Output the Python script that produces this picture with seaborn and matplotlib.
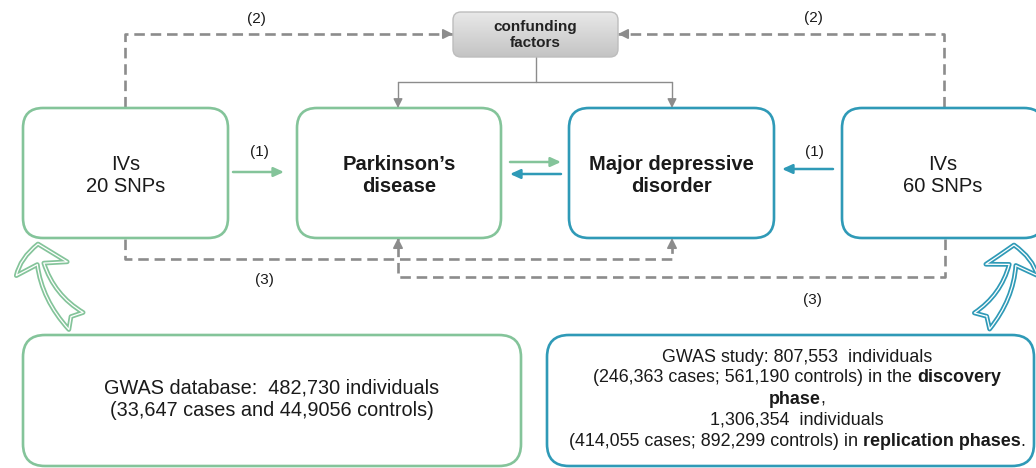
import matplotlib
matplotlib.use('Agg')
import matplotlib.pyplot as plt
import seaborn as sns
import numpy as np
from matplotlib.patches import FancyBboxPatch, FancyArrowPatch

# ---- diagram content ----
box_labels = ["IVs\n20 SNPs", "Parkinson\u2019s\ndisease", "Major depressive\ndisorder", "IVs\n60 SNPs"]
box_bold = [False, True, True, False]
confounder_label = "confunding\nfactors"
path_labels = ["(1)", "(2)", "(3)"]
pd_gwas_lines = ["GWAS database:  482,730 individuals", "(33,647 cases and 44,9056 controls)"]
mdd_gwas_lines = [
    [("GWAS study: 807,553  individuals", "normal")],
    [("(246,363 cases; 561,190 controls) in the", "normal"), ("discovery", "bold")],
    [("phase", "bold"), (",", "normal")],
    [("1,306,354  individuals", "normal")],
    [("(414,055 cases; 892,299 controls) in", "normal"), ("replication phases", "bold"), (".", "normal")],
]

GREEN = "#84c49a"
BLUE = "#2f9ab7"
GRAY = "#8c8c8c"
TXT = "#1a1a1a"

sns.set_theme(style="white")
plt.rcParams['font.family'] = ['Liberation Sans', 'DejaVu Sans']

fig = plt.figure(figsize=(10.36, 4.68), dpi=100)
ax = fig.add_axes([0, 0, 1, 1])
ax.set_xlim(0, 1036)
ax.set_ylim(468, 0)
ax.axis('off')


def rbox(x0, y0, x1, y1, color, r=20, lw=1.9, face='white'):
    p = FancyBboxPatch((x0, y0), x1 - x0, y1 - y0,
                       boxstyle=f"round,pad=0,rounding_size={r}",
                       fc=face, ec=color, lw=lw, zorder=2)
    ax.add_patch(p)
    return p


def dashed(points, arrow=True):
    pts = np.array(points, dtype=float)
    ax.plot(pts[:, 0], pts[:, 1], color=GRAY, lw=1.9, ls=(0, (4, 2.2)),
            solid_capstyle='butt', dash_capstyle='butt', zorder=1)
    if arrow:
        end = pts[-1]
        d = pts[-1] - pts[-2]
        d = d / np.hypot(*d)
        ax.annotate("", xy=end, xytext=end - d * 9,
                    arrowprops=dict(arrowstyle="-|>,head_length=0.5,head_width=0.25",
                                    color=GRAY, lw=1.2, mutation_scale=12,
                                    shrinkA=0, shrinkB=0), zorder=3)


def arrow(x0, y0, x1, y1, color, lw=1.8, ms=11):
    ax.annotate("", xy=(x1, y1), xytext=(x0, y0),
                arrowprops=dict(arrowstyle="-|>,head_length=0.55,head_width=0.25",
                                color=color, lw=lw, mutation_scale=ms,
                                shrinkA=0, shrinkB=0), zorder=3)


# main boxes
main_boxes = [(23, 108, 228, 238, GREEN), (297, 108, 501, 238, GREEN),
              (569, 108, 774, 238, BLUE), (842, 108, 1044, 238, BLUE)]
for (x0, y0, x1, y1, c), lab, b in zip(main_boxes, box_labels, box_bold):
    ax.text((x0 + x1) / 2, (y0 + y1) / 2 + 2, lab, ha='center', va='center',
            fontsize=14.5, fontweight='bold' if b else 'normal', color=TXT,
            linespacing=1.2, zorder=4)
    rbox(x0, y0, x1, y1, c)

# confounding factors box with gradient
cb = rbox(453, 12, 618, 57, "#bdbdbd", r=8, lw=1.0, face='none')
grad = np.linspace(0, 1, 100).reshape(-1, 1)
im = ax.imshow(grad, cmap=matplotlib.colors.LinearSegmentedColormap.from_list(
    "g", ["#e8e8e8", "#c4c4c4"]), extent=(453, 618, 57, 12), aspect='auto', zorder=1.5)
im.set_clip_path(cb)
ax.set_xlim(0, 1036)
ax.set_ylim(468, 0)
ax.text(535.5, 35, confounder_label, ha='center', va='center', fontsize=11,
        fontweight='bold', color="#222222", linespacing=1.15, zorder=4)

# confounder -> outcomes (thin solid)
ax.plot([535.5, 535.5], [57, 82], color=GRAY, lw=1.0, zorder=1)
ax.plot([398, 672], [82, 82], color=GRAY, lw=1.0, zorder=1)
for xx in (398, 672):
    ax.plot([xx, xx], [82, 100], color=GRAY, lw=1.0, zorder=1)
    ax.annotate("", xy=(xx, 108), xytext=(xx, 99),
                arrowprops=dict(arrowstyle="-|>,head_length=0.5,head_width=0.25",
                                color=GRAY, lw=1.0, mutation_scale=11,
                                shrinkA=0, shrinkB=0), zorder=3)

# (1) direct paths
arrow(233, 172, 284, 172, GREEN)
arrow(833, 169, 782, 169, BLUE)
ax.text(259, 152, path_labels[0], ha='center', va='center', fontsize=11, color=TXT)
ax.text(814, 152, path_labels[0], ha='center', va='center', fontsize=11, color=TXT)

# bidirectional arrows between PD and MDD
arrow(510, 162, 561, 162, GREEN)
arrow(561, 174, 510, 174, BLUE)

# (2) paths to confounders
dashed([(125, 107), (125, 34), (453, 34)])
dashed([(944, 107), (944, 34), (618, 34)])
ax.text(256, 19, path_labels[1], ha='center', va='center', fontsize=11, color=TXT)
ax.text(813, 18, path_labels[1], ha='center', va='center', fontsize=11, color=TXT)

# (3) paths
dashed([(125, 239), (125, 259), (672, 259), (672, 238)])
dashed([(945, 239), (945, 277), (398, 277), (398, 238)])
ax.text(264, 280, path_labels[2], ha='center', va='center', fontsize=11, color=TXT)
ax.text(812, 300, path_labels[2], ha='center', va='center', fontsize=11, color=TXT)

# hollow curved arrows
for tail, tip, c, rad in [((76, 321), (38, 244), GREEN, -0.22),
                          ((982, 321), (1014, 245), BLUE, 0.22)]:
    for lw, ec, fc in [(3.4, c, 'white'), (0.9, 'white', 'none')]:
        a = FancyArrowPatch(tail, tip,
                            arrowstyle="fancy,head_width=38,head_length=18,tail_width=16",
                            connectionstyle=f"arc3,rad={rad}", mutation_scale=1,
                            fc=fc, ec=ec, lw=lw, zorder=2, shrinkA=0, shrinkB=0)
        ax.add_patch(a)

# bottom GWAS boxes
rbox(23, 335, 521, 466, GREEN, r=22)
rbox(547, 335, 1034, 466, BLUE, r=22)

ax.text(272, 388, pd_gwas_lines[0], ha='center', va='center', fontsize=14.3, color=TXT)
ax.text(272, 410, pd_gwas_lines[1], ha='center', va='center', fontsize=14.3, color=TXT)

renderer = fig.canvas.get_renderer()


def text_width(s, weight, size):
    t = ax.text(0, 0, s, fontsize=size, fontweight=weight)
    w = t.get_window_extent(renderer).width
    t.remove()
    return w


def mixed_line(xc, y, parts, size):
    space = text_width("x x", "normal", size) - text_width("xx", "normal", size)
    widths = [text_width(s, w, size) for s, w in parts]
    gaps = []
    for i in range(len(parts) - 1):
        nxt = parts[i + 1][0]
        gaps.append(0 if nxt[0] in ",." else space)
    total = sum(widths) + sum(gaps)
    x = xc - total / 2
    for i, (s, w) in enumerate(parts):
        ax.text(x, y, s, fontsize=size, fontweight=w, ha='left', va='center', color=TXT)
        x += widths[i] + (gaps[i] if i < len(gaps) else 0)


line_y = [357, 378, 399, 420, 442]
for y, parts in zip(line_y, mdd_gwas_lines):
    mixed_line(797, y, parts, 12.9)

plt.savefig("out.png", dpi=100)
plt.close()
